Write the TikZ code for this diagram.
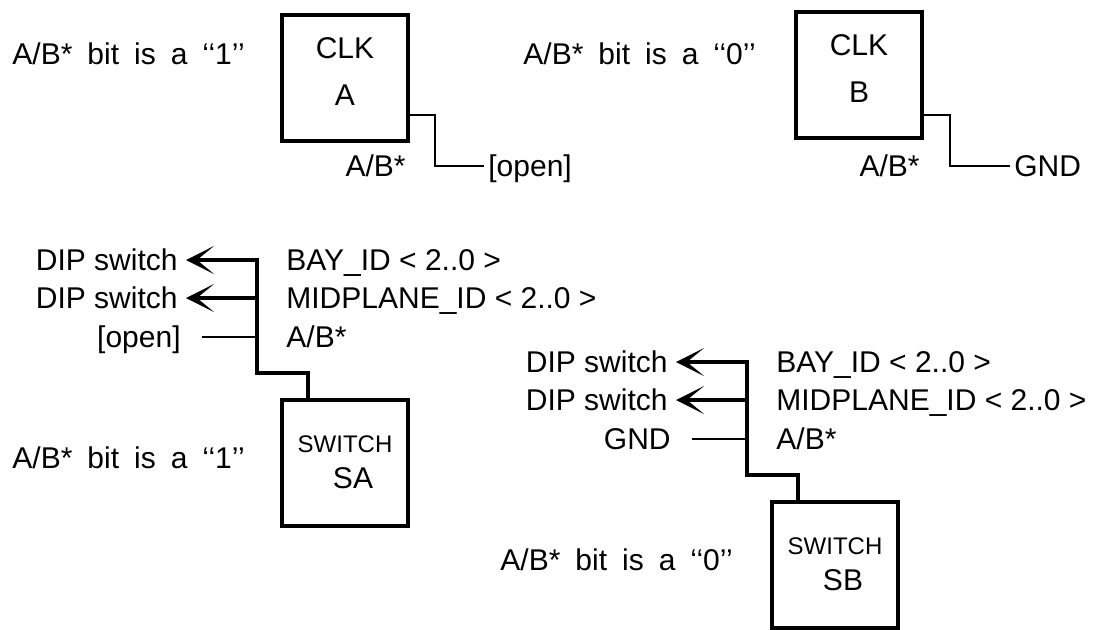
\documentclass[tikz,border=0pt]{standalone}
\usepackage{fontspec}
\setmainfont{Liberation Sans}
\usetikzlibrary{arrows.meta, positioning, calc}
\newcommand{\lift}{\rule[-6pt]{0pt}{6pt}}
\tikzset{
  blk/.style  = {draw, line width=2pt, minimum width=63pt, minimum height=63pt, inner sep=0pt, align=center,
                 font=\fontsize{15}{23.5}\selectfont},
  lbl/.style  = {inner sep=2pt, text height=10.8pt, text depth=0pt, font=\fontsize{15}{18}\selectfont},
  note/.style = {lbl, font={\fontsize{15}{18}\selectfont\spaceskip=.5em plus .1em\relax}},
  bus/.style  = {line width=2pt, -{Stealth[length=14pt, width=14pt, inset=8.5pt]}, shorten >=2pt},
  wire/.style = {line width=.85pt}
}

\begin{document}
\begin{tikzpicture}[x=0.5pt, y=-0.5pt]
\useasboundingbox (0,0) rectangle (1094,629);
%% ===== top row: clock boards =====
% (1) clock A
\node[note, anchor=west] (bitA) at (8,54) {A/B* bit is a ‘‘1’’};
\node[blk] (clkA) at (345,77.5) {CLK\\A\lift};
\node[lbl, anchor=west] (openA) at (484,166) {[open]};
\node[lbl, anchor=east] (abA) at (clkA.east |- openA.west) {A/B*};
\draw[wire] ([yshift=-18.75pt]clkA.east) -- ++(25,0) |- (openA.west);
% (2) clock B
\node[note, anchor=west] (bitB) at (519,54) {A/B* bit is a ‘‘0’’};
\node[blk] (clkB) at (859,75) {CLK\\B\lift};
\node[lbl, anchor=west] (gndB) at (1010,166) {GND};
\node[lbl, anchor=east] (abB) at (clkB.east |- gndB.west) {A/B*};
\draw[wire] ([yshift=-20pt]clkB.east) -- ++(26,0) |- (gndB.west);
%% ===== bottom row: switches =====
% (3) switch A
\begin{scope}
  \coordinate (tA1) at (257,260);
  \coordinate (tA2) at (257,298);
  \coordinate (tA3) at (257,337);
  \node[blk] (swA) at (345,462.5) {\fontsize{12}{14}\selectfont SWITCH\\[-5.5pt]\fontsize{15}{18}\selectfont\hspace{8pt}SA};
  \node[note, anchor=west] (bitSA) at (8,458) {A/B* bit is a ‘‘1’’};
  \node[lbl, anchor=east] (dipA1) at (182,260) {DIP switch};
  \node[lbl, anchor=east] (dipA2) at (182,298) {DIP switch};
  \node[lbl, anchor=east] (openSA) at (185,337) {[open]};
  \node[lbl, anchor=west] (bayA) at (282,260) {BAY\_ID < 2..0 >};
  \node[lbl, anchor=west] (midA) at (282,298) {MIDPLANE\_ID < 2..0 >};
  \node[lbl, anchor=west] (abSA) at (282,337) {A/B*};
  \draw[bus] ([xshift=-18.5pt]swA.north) -- ++(0,-25) -| (tA1) -- (dipA1.east);
  \draw[bus] (tA2) -- (dipA2.east);
  \draw[wire, shorten >=8.5pt] (tA3) -- (openSA.east);
\end{scope}
% (4) switch B
\begin{scope}[shift={(490,102)}]
  \coordinate (tB1) at (257,260);
  \coordinate (tB2) at (257,298);
  \coordinate (tB3) at (257,337);
  \node[blk] (swB) at (345,462.5) {\fontsize{12}{14}\selectfont SWITCH\\[-5.5pt]\fontsize{15}{18}\selectfont\hspace{8pt}SB};
  \node[note, anchor=west] (bitSB) at (6,458) {A/B* bit is a ‘‘0’’};
  \node[lbl, anchor=east] (dipB1) at (182,260) {DIP switch};
  \node[lbl, anchor=east] (dipB2) at (182,298) {DIP switch};
  \node[lbl, anchor=east] (gndSB) at (185,337) {GND};
  \node[lbl, anchor=west] (bayB) at (282,260) {BAY\_ID < 2..0 >};
  \node[lbl, anchor=west] (midB) at (282,298) {MIDPLANE\_ID < 2..0 >};
  \node[lbl, anchor=west] (abSB) at (282,337) {A/B*};
  \draw[bus] ([xshift=-18.5pt]swB.north) -- ++(0,-25) -| (tB1) -- (dipB1.east);
  \draw[bus] (tB2) -- (dipB2.east);
  \draw[wire, shorten >=8.5pt] (tB3) -- (gndSB.east);
\end{scope}
\end{tikzpicture}
\end{document}
